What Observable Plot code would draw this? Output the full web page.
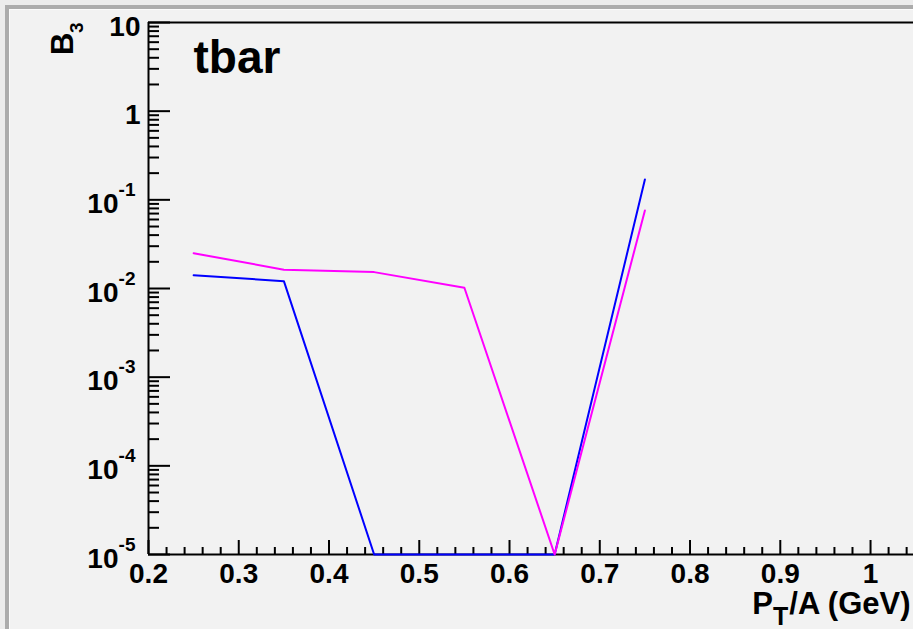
<!DOCTYPE html>
<html>
<head>
<meta charset="utf-8">
<script src="https://cdn.jsdelivr.net/npm/d3@7"></script>
<script src="https://cdn.jsdelivr.net/npm/@observablehq/plot@0.6"></script>
<style>
  html, body { margin: 0; padding: 0; background: #f2f2f2; overflow: hidden; }
  #canvas { position: relative; width: 913px; height: 629px; overflow: hidden; background: #ececec; }
  #pad {
    position: absolute; left: 5px; top: 5px; right: -20px; bottom: -20px;
    border-top: 4px solid #acacac; border-left: 4px solid #acacac;
    box-shadow: inset 1px 1px 0 #fbfbfb;
    background: #f2f2f2;
  }
  #chart { position: absolute; left: 0; top: 0; }
  #chart svg { background: transparent; }
</style>
</head>
<body>
<div id="canvas"><div id="pad"></div><div id="chart"></div></div>
<script>
// B3 versus transverse momentum per nucleon, two series
const ptA       = [0.25, 0.35, 0.45, 0.55, 0.65, 0.75];
const b3Blue    = [0.0141, 0.0121, 1e-5, 1e-5, 1e-5, 0.1695];
const b3Magenta = [0.0250, 0.0163, 0.0153, 0.0102, 1e-5, 0.0758];

// axis ticks and labels
const xTickValues = [0.2, 0.3, 0.4, 0.5, 0.6, 0.7, 0.8, 0.9, 1.0];
const xTickLabels = ["0.2", "0.3", "0.4", "0.5", "0.6", "0.7", "0.8", "0.9", "1"];
const yDecades    = [1e-5, 1e-4, 1e-3, 1e-2, 1e-1, 1, 10];
const yTickBase   = ["10", "10", "10", "10", "10", "1", "10"];
const yTickExp    = ["-5", "-4", "-3", "-2", "-1", "", ""];

const xDomain = [0.2, 1.0476];
const yDomain = [1e-5, 10];

const FONT = '"Liberation Sans", Arial, Helvetica, sans-serif';

// minor ticks: every 0.02 on x, 2..9 within each decade on y
const xMinor = d3.range(0, 43).map(i => +(0.2 + i * 0.02).toFixed(2))
  .filter(v => v <= xDomain[1] && Math.abs(v * 10 - Math.round(v * 10)) > 1e-6);
const yMinor = yDecades.slice(0, -1).flatMap(d => d3.range(2, 10).map(k => d * k));

const blueRows = ptA.map((x, i) => ({x, y: b3Blue[i]}));
const magentaRows = ptA.map((x, i) => ({x, y: b3Magenta[i]}));

const yWithExp = yDecades.map((v, i) => ({v, base: yTickBase[i], exp: yTickExp[i]})).filter(d => d.exp);
const yNoExp = yDecades.map((v, i) => ({v, base: yTickBase[i], exp: yTickExp[i]})).filter(d => !d.exp);
const xLabelRows = xTickValues.map((v, i) => ({v, label: xTickLabels[i]}));

// text widths for composing the x-axis title with a subscript
const ctx = document.createElement("canvas").getContext("2d");
function textWidth(str, size) {
  ctx.font = `bold ${size}px ${FONT}`;
  return ctx.measureText(str).width;
}
const titleSize = 31, subSize = 25;
const wRest = textWidth("/A (GeV)", titleSize);
const wSub = textWidth("T", subSize);

const textStyle = {fontFamily: FONT, fontWeight: "bold", fill: "black"};

const chart = Plot.plot({
  width: 913,
  height: 629,
  marginLeft: 148,
  marginRight: 0,
  marginTop: 22,
  marginBottom: 75,
  style: {background: "transparent", overflow: "visible"},
  x: {domain: xDomain, axis: null},
  y: {type: "log", domain: yDomain, axis: null},
  marks: [
    // tick marks pointing into the frame
    Plot.axisY(yDecades, {anchor: "left", tickSize: -22, strokeWidth: 2, fill: "none", label: null}),
    Plot.axisY(yMinor, {anchor: "left", tickSize: -11, strokeWidth: 2, fill: "none", label: null}),
    Plot.axisX(xTickValues, {anchor: "bottom", tickSize: -14, strokeWidth: 2, fill: "none", label: null}),
    Plot.axisX(xMinor, {anchor: "bottom", tickSize: -7, strokeWidth: 2, fill: "none", label: null}),

    // frame: left, bottom and top edges
    Plot.ruleX([xDomain[0]], {stroke: "black", strokeWidth: 2}),
    Plot.ruleY([yDomain[0]], {stroke: "black", strokeWidth: 2}),
    Plot.ruleY([yDomain[1]], {stroke: "black", strokeWidth: 2}),

    // data, drawn over the frame
    Plot.line(blueRows, {x: "x", y: "y", stroke: "#0000ff", strokeWidth: 2}),
    Plot.line(magentaRows, {x: "x", y: "y", stroke: "#ff00ff", strokeWidth: 2}),

    // y tick labels (10 with exponent)
    Plot.text(yWithExp, {y: "v", text: "base", frameAnchor: "left", textAnchor: "end", lineAnchor: "bottom",
      dx: -30, dy: 13, fontSize: 28, ...textStyle}),
    Plot.text(yWithExp, {y: "v", text: "exp", frameAnchor: "left", textAnchor: "end", lineAnchor: "bottom",
      dx: -13, dy: -4, fontSize: 19, ...textStyle}),
    Plot.text(yNoExp, {y: "v", text: "base", frameAnchor: "left", textAnchor: "end", lineAnchor: "bottom",
      dx: -8, dy: 13, fontSize: 28, ...textStyle}),

    // x tick labels
    Plot.text(xLabelRows, {x: "v", text: "label", frameAnchor: "bottom", textAnchor: "middle", lineAnchor: "bottom",
      dy: 28, fontSize: 28, ...textStyle}),

    // x-axis title: P_T/A (GeV)
    Plot.text(["/A (GeV)"], {frameAnchor: "bottom-right", textAnchor: "end", lineAnchor: "bottom",
      dx: -3, dy: 59, fontSize: titleSize, ...textStyle}),
    Plot.text(["T"], {frameAnchor: "bottom-right", textAnchor: "end", lineAnchor: "bottom",
      dx: -3 - wRest, dy: 70, fontSize: subSize, ...textStyle}),
    Plot.text(["P"], {frameAnchor: "bottom-right", textAnchor: "end", lineAnchor: "bottom",
      dx: -3 - wRest - wSub, dy: 59, fontSize: titleSize, ...textStyle}),

    // y-axis title: B_3
    Plot.text(["B"], {frameAnchor: "top-left", textAnchor: "end", lineAnchor: "bottom", rotate: -90,
      dx: -76, dy: 10, fontSize: 31, ...textStyle}),
    Plot.text(["3"], {frameAnchor: "top-left", textAnchor: "end", lineAnchor: "bottom", rotate: -90,
      dx: -66, dy: 0, fontSize: 19, ...textStyle}),

    // panel label
    Plot.text(["tbar"], {frameAnchor: "top-left", textAnchor: "start", lineAnchor: "bottom",
      dx: 45, dy: 50, fontSize: 46, ...textStyle})
  ]
});

document.getElementById("chart").appendChild(chart);
</script>
</body>
</html>
